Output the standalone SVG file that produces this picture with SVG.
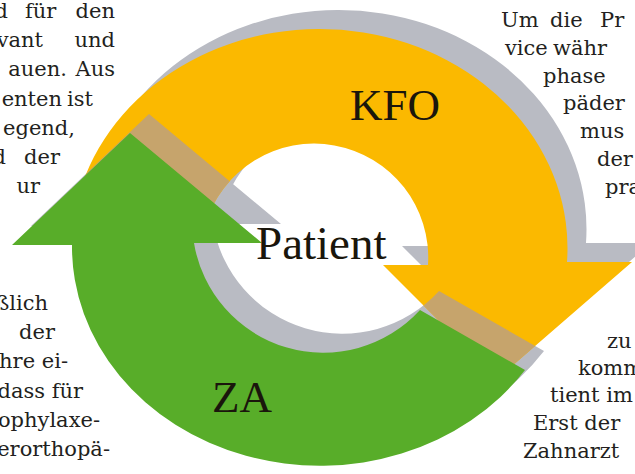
<svg xmlns="http://www.w3.org/2000/svg" xmlns:xlink="http://www.w3.org/1999/xlink" width="635" height="474" viewBox="0 0 635 474">
<style>
.body{font-family:"DejaVu Serif","Liberation Serif",serif;font-size:21px;fill:#231f20}
.lab{font-family:"Liberation Serif","Times New Roman",serif;fill:#1a160c}
.shadow{fill:#b9bbc3}
.tan{fill:#c6a46c}
</style>
<defs>
<path id="yellowShape" d="M 82,185 A 248 219 0 0 1 567,262 L 632,262 L 497,379 L 383,265 L 428,265 A 114 114 0 0 0 205,225 Z"/>
<path id="greenShape" d="M 525,370 A 248 219 0 0 1 72,245 L 12,245 L 130,133 L 262,243 L 194,243 A 131 131 0 0 0 420,310 Z"/>
<clipPath id="clipYellow"><use xlink:href="#yellowShape"/></clipPath>
</defs>
<rect width="635" height="474" fill="#ffffff"/>
<g id="text-left" class="body">
<text x="8" y="18" text-anchor="end">d</text><text x="25" y="18">für</text><text x="115" y="18" text-anchor="end">den</text>
<text x="43" y="47" text-anchor="end">vant</text><text x="115" y="47" text-anchor="end">und</text>
<text x="67" y="76" text-anchor="end">auen.</text><text x="115" y="76" text-anchor="end">Aus</text>
<text x="62" y="106" text-anchor="end">enten</text><text x="93" y="106" text-anchor="end">ist</text>
<text x="75" y="135" text-anchor="end">egend,</text>
<text x="6" y="164" text-anchor="end">d</text><text x="60" y="164" text-anchor="end">der</text>
<text x="40" y="193" text-anchor="end">ur</text>
<text x="48" y="310" text-anchor="end">ßlich</text>
<text x="55" y="339" text-anchor="end">der</text>
<text x="68" y="368" text-anchor="end">hre ei-</text>
<text x="83" y="398" text-anchor="end">dass für</text>
<text x="100" y="427" text-anchor="end">ophylaxe-</text>
<text x="110" y="456" text-anchor="end">erorthopä-</text>
</g>
<g id="text-right" class="body">
<text x="501" y="27">Um</text><text x="550" y="27">die</text><text x="600" y="27">Pr</text>
<text x="505" y="55">vice</text><text x="553" y="55">währ</text>
<text x="543" y="83">phase</text>
<text x="563" y="110">päder</text>
<text x="580" y="138">mus</text>
<text x="597" y="166">der</text>
<text x="605" y="194">pra</text>
<text x="607" y="348">zu</text>
<text x="578" y="375">komm</text>
<text x="550" y="402">tient im</text>
<text x="533" y="430">Erst der</text>
<text x="523" y="458">Zahnarzt</text>
</g>
<g id="shadows">
<use xlink:href="#yellowShape" class="shadow" transform="translate(19,-19)"/>
<use xlink:href="#greenShape" class="shadow" transform="translate(19,-19)"/>
</g>
<g id="arrow-kfo">
<use xlink:href="#yellowShape" fill="#fbb900"/>
</g>
<g id="overlap" clip-path="url(#clipYellow)">
<use xlink:href="#greenShape" class="tan" transform="translate(19,-19)"/>
</g>
<g id="arrow-za">
<use xlink:href="#greenShape" fill="#58ad29"/>
</g>
<g id="labels">
<g id="node-kfo"><text class="lab" x="350" y="120" font-size="45">KFO</text></g>
<g id="node-patient"><text class="lab" x="256" y="259" font-size="47">Patient</text></g>
<g id="node-za"><text class="lab" x="212" y="412" font-size="45" fill="#10240a">ZA</text></g>
</g>
</svg>
